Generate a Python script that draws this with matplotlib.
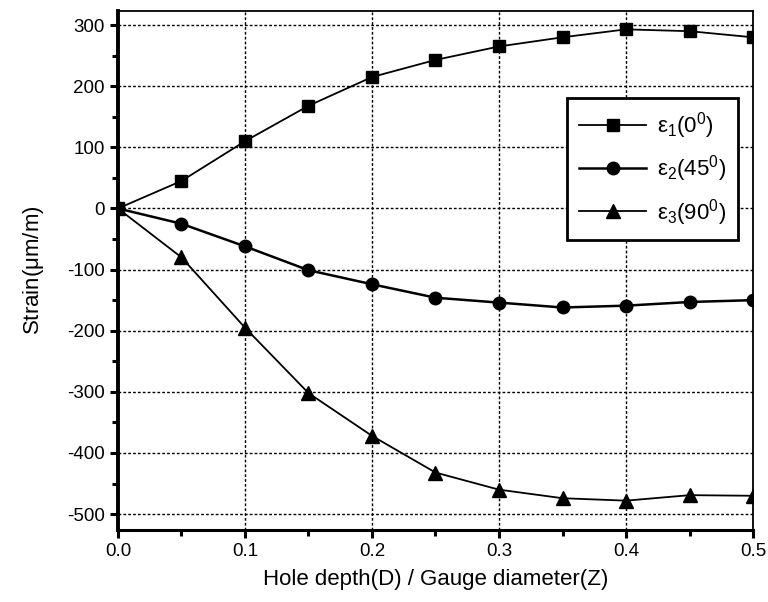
import numpy as np
import matplotlib
matplotlib.use('Agg')
import matplotlib.pyplot as plt
from matplotlib.ticker import MultipleLocator

plt.rcParams['font.family'] = ['Liberation Sans', 'DejaVu Sans']
plt.rcParams['mathtext.fontset'] = 'custom'
plt.rcParams['mathtext.rm'] = 'Liberation Sans'
plt.rcParams['axes.unicode_minus'] = False

# hole depth ratio D/Z
depth = [0.0, 0.05, 0.1, 0.15, 0.2, 0.25, 0.3, 0.35, 0.4, 0.45, 0.5]
# strains (um/m)
eps1 = [0, 45, 110, 168, 215, 243, 265, 280, 293, 290, 280]
eps2 = [0, -25, -62, -101, -124, -146, -154, -162, -159, -153, -150]
eps3 = [0, -80, -195, -302, -372, -432, -460, -474, -478, -469, -470]
labels = [r'$\mathregular{\varepsilon_1(0^0)}$',
          r'$\mathregular{\varepsilon_2(45^0)}$',
          r'$\mathregular{\varepsilon_3(90^0)}$']

fig = plt.figure(figsize=(7.68, 6.02), dpi=100)
ax = fig.add_axes([0.1536, 0.1196, 0.8269, 0.8621])

ax.plot(depth, eps1, 'k-', marker='s', ms=8, lw=1.3, label=labels[0])
ax.plot(depth, eps2, 'k-', marker='o', ms=9, lw=1.8, label=labels[1])
ax.plot(depth, eps3, 'k-', marker='^', ms=10, lw=1.3, label=labels[2])

ax.set_xlim(0, 0.5)
ax.set_ylim(-526, 323)
ax.xaxis.set_major_locator(MultipleLocator(0.1))
ax.xaxis.set_minor_locator(MultipleLocator(0.05))
ax.yaxis.set_major_locator(MultipleLocator(100))
ax.yaxis.set_minor_locator(MultipleLocator(50))
ax.xaxis.set_major_formatter(plt.FuncFormatter(lambda v, p: '%.1f' % v))

ax.grid(True, which='major', color='k', ls=(0, (2, 1.5)), lw=1.0)
ax.tick_params(which='major', direction='out', length=6, width=2.2, labelsize=13.5)
ax.tick_params(which='minor', direction='out', length=4, width=2.2)
ax.tick_params(top=False, right=False)
for s in ax.spines.values():
    s.set_linewidth(1.3)
ax.spines['left'].set_linewidth(2.8)
ax.spines['bottom'].set_linewidth(2.2)

ax.set_xlabel('Hole depth(D) / Gauge diameter(Z)', fontsize=16, labelpad=6)
ax.set_ylabel(r'Strain($\mathregular{\mu}$m/m)', fontsize=16, labelpad=15)

leg = ax.legend(loc='upper right', bbox_to_anchor=(0.977, 0.832), borderaxespad=0,
                fontsize=16, fancybox=False, framealpha=1, edgecolor='k',
                handlelength=3, borderpad=0.55, labelspacing=0.55, handletextpad=0.5)
leg.get_frame().set_linewidth(2)

fig.savefig('out.png', dpi=100)
